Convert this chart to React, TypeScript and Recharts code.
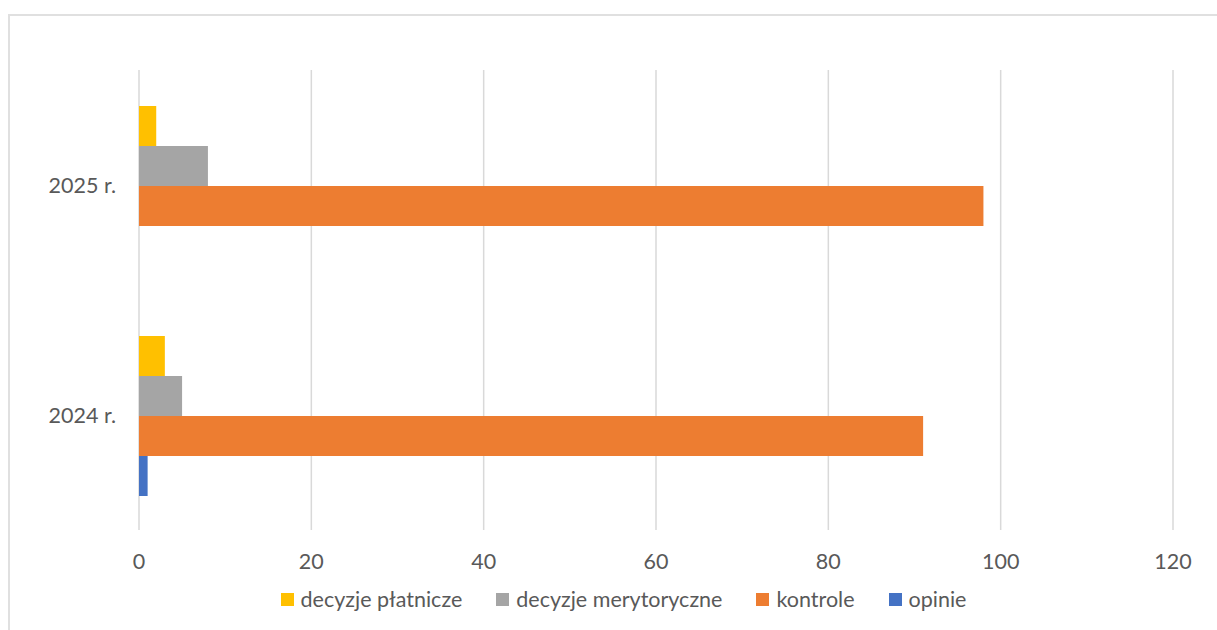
import React from "react";
import {
  BarChart,
  Bar,
  XAxis,
  YAxis,
  CartesianGrid,
  Legend,
} from "recharts";

// category labels, top to bottom
const years = ["2025 r.", "2024 r."];

const decyzjePlatnicze = [2, 3];
const decyzjeMerytoryczne = [8, 5];
const kontrole = [98, 91];
const opinie = [0, 1];

const xTicks = [0, 20, 40, 60, 80, 100, 120];

const series = [
  { key: "decyzjePlatnicze", name: "decyzje płatnicze", color: "#FFC000" },
  { key: "decyzjeMerytoryczne", name: "decyzje merytoryczne", color: "#A5A5A5" },
  { key: "kontrole", name: "kontrole", color: "#ED7D31" },
  { key: "opinie", name: "opinie", color: "#4472C4" },
];

const data = years.map((year, i) => ({
  year,
  decyzjePlatnicze: decyzjePlatnicze[i],
  decyzjeMerytoryczne: decyzjeMerytoryczne[i],
  kontrole: kontrole[i],
  opinie: opinie[i],
}));

const FONT = "Lato, 'Open Sans', sans-serif";
const TEXT = "#595959";
const FS = 21.5;

// keep legend entries in series order (recharts sorts by name otherwise)
const seriesIndex = (name: string) => series.findIndex((s) => s.name === name);

const LegendRow = ({ payload }: any) => {
  const items = [...(payload || [])].sort(
    (a: any, b: any) => seriesIndex(a.value) - seriesIndex(b.value)
  );
  return (
    <div
      style={{
        display: "flex",
        justifyContent: "center",
        alignItems: "center",
        height: 24,
        gap: 34,
        fontFamily: FONT,
        fontSize: FS,
        color: TEXT,
      }}
    >
      {items.map((entry: any) => (
        <div key={entry.value} style={{ display: "flex", alignItems: "center" }}>
          <span
            style={{
              width: 13,
              height: 13,
              background: entry.color,
              marginRight: 7,
              display: "inline-block",
            }}
          />
          <span>{entry.value}</span>
        </div>
      ))}
    </div>
  );
};

export default function App() {
  return (
    <div
      style={{
        position: "absolute",
        left: 8,
        top: 14,
        width: 1209,
        height: 616,
        overflow: "hidden",
        fontFamily: FONT,
      }}
    >
      <BarChart
        width={1231}
        height={616}
        data={data}
        layout="vertical"
        margin={{ top: 56, right: 66, left: 0, bottom: 19 }}
        barCategoryGap={36}
        barGap={0}
      >
        <CartesianGrid
          horizontal={false}
          stroke="#d9d9d9"
          strokeWidth={1.5}
        />
        <XAxis
          type="number"
          domain={[0, 120]}
          ticks={xTicks}
          axisLine={false}
          tickLine={false}
          tickSize={0}
          tickMargin={24}
          height={57}
          tick={{ fill: TEXT, fontSize: FS, fontFamily: FONT }}
        />
        <YAxis
          type="category"
          dataKey="year"
          width={131}
          axisLine={false}
          tickLine={false}
          tickSize={0}
          tickMargin={23}
          tick={{ fill: TEXT, fontSize: FS, fontFamily: FONT }}
        />
        {series.map((s) => (
          <Bar
            key={s.key}
            dataKey={s.key}
            name={s.name}
            fill={s.color}
            isAnimationActive={false}
          />
        ))}
        <Legend
          verticalAlign="bottom"
          content={<LegendRow />}
          wrapperStyle={{ left: 0, width: 1231 }}
        />
      </BarChart>
      <div
        style={{
          position: "absolute",
          left: 0,
          top: 0,
          width: "100%",
          height: "100%",
          borderTop: "2px solid #e0e0e0",
          borderLeft: "2px solid #e0e0e0",
          boxSizing: "border-box",
          pointerEvents: "none",
        }}
      />
    </div>
  );
}
